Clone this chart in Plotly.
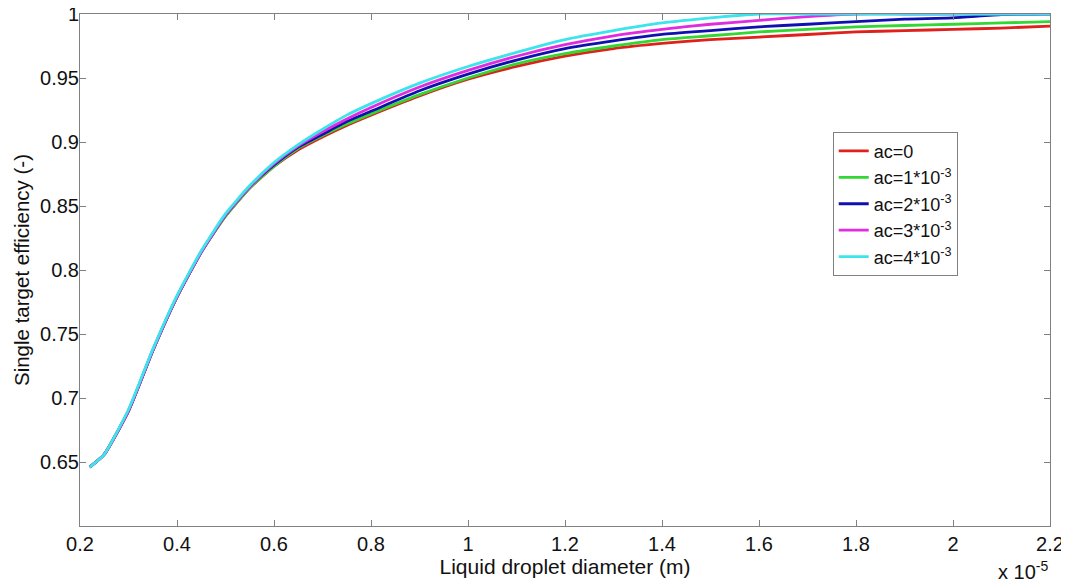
import plotly.graph_objects as go

# Liquid droplet diameter in units of 1e-5 m
diameter = [0.22, 0.25, 0.30, 0.35, 0.40, 0.45, 0.50, 0.55, 0.60, 0.65, 0.70, 0.75, 0.80, 0.90,
            1.00, 1.10, 1.20, 1.30, 1.40, 1.50, 1.60, 1.70, 1.80, 1.90, 2.00, 2.10, 2.20]

eff_ac0 = [0.646, 0.656, 0.690, 0.737, 0.779, 0.814, 0.842, 0.864, 0.881, 0.894, 0.904, 0.913, 0.921, 0.936,
           0.949, 0.959, 0.967, 0.973, 0.977, 0.980, 0.982, 0.984, 0.986, 0.987, 0.988, 0.989, 0.9905]
eff_ac1 = [0.646, 0.656, 0.690, 0.737, 0.779, 0.814, 0.842, 0.864, 0.881, 0.895, 0.905, 0.914, 0.922, 0.937,
           0.950, 0.961, 0.969, 0.975, 0.980, 0.983, 0.986, 0.988, 0.990, 0.991, 0.992, 0.993, 0.994]
eff_ac2 = [0.646, 0.656, 0.690, 0.737, 0.779, 0.814, 0.843, 0.865, 0.882, 0.896, 0.906, 0.916, 0.924, 0.940,
           0.953, 0.964, 0.973, 0.979, 0.984, 0.987, 0.990, 0.992, 0.994, 0.996, 0.997, 0.9995, 1.000]
eff_ac3 = [0.646, 0.656, 0.690, 0.737, 0.779, 0.814, 0.843, 0.865, 0.883, 0.897, 0.908, 0.918, 0.927, 0.943,
           0.956, 0.967, 0.976, 0.983, 0.988, 0.992, 0.995, 0.998, 1.000, 1.000, 1.000, 1.000, 1.000]
eff_ac4 = [0.646, 0.656, 0.691, 0.738, 0.780, 0.815, 0.844, 0.866, 0.884, 0.898, 0.910, 0.921, 0.930, 0.946,
           0.959, 0.970, 0.980, 0.987, 0.993, 0.997, 1.000, 1.000, 1.000, 1.000, 1.000, 1.000, 1.000]

series_names = ["ac=0", "ac=1*10<sup>-3</sup>", "ac=2*10<sup>-3</sup>",
                "ac=3*10<sup>-3</sup>", "ac=4*10<sup>-3</sup>"]
series_vals = [eff_ac0, eff_ac1, eff_ac2, eff_ac3, eff_ac4]
colors = ["#e0201c", "#33d633", "#1010b0", "#e02ce0", "#3ce4ec"]

x_ticks = [0.2, 0.4, 0.6, 0.8, 1.0, 1.2, 1.4, 1.6, 1.8, 2.0, 2.2]
x_ticklabels = ["0.2", "0.4", "0.6", "0.8", "1", "1.2", "1.4", "1.6", "1.8", "2", "2.2"]
y_ticks = [0.65, 0.7, 0.75, 0.8, 0.85, 0.9, 0.95, 1.0]
y_ticklabels = ["0.65", "0.7", "0.75", "0.8", "0.85", "0.9", "0.95", "1"]

fig = go.Figure()
for name, vals, c in zip(series_names, series_vals, colors):
    fig.add_trace(go.Scatter(x=diameter, y=vals, mode="lines", name=name,
                             line=dict(color=c, width=2.8, shape="spline", smoothing=0.5)))

font_family = "Liberation Sans, Arial, sans-serif"
axis_common = dict(showline=True, linecolor="#808080", linewidth=1, mirror="ticks",
                   ticks="inside", ticklen=6, tickcolor="#808080", showgrid=False,
                   zeroline=False, automargin=False, ticklabeloverflow="allow",
                   tickfont=dict(size=20, color="#111111", family=font_family))

# the page body adds an 8px offset at top/left; size the figure so the plot area lands where the reference has it
fig.update_layout(
    width=1061, height=575,
    margin=dict(l=72, r=19, t=6, b=57),
    paper_bgcolor="white", plot_bgcolor="white",
    font=dict(family=font_family, color="#111111"),
    xaxis=dict(range=[0.2, 2.2], tickvals=x_ticks, ticktext=x_ticklabels,
               title=dict(text="Liquid droplet diameter (m)", font=dict(size=21), standoff=0),
               **axis_common),
    yaxis=dict(range=[0.6, 1.0], tickvals=y_ticks, ticktext=y_ticklabels,
               ticklabelstandoff=-4,
               title=dict(text="Single target efficiency (-)", font=dict(size=20.5), standoff=4),
               **axis_common),
    legend=dict(x=0.776, y=0.77, xanchor="left", yanchor="top",
                bgcolor="white", bordercolor="#808080", borderwidth=1,
                font=dict(size=18, family=font_family), itemwidth=30,
                tracegroupgap=0),
    showlegend=True,
)

fig.add_annotation(text="x 10<sup>-5</sup>", xref="paper", yref="paper",
                   x=1.0, y=-0.058, xanchor="right", yanchor="top", showarrow=False,
                   font=dict(size=20, family=font_family, color="#111111"))

fig.write_html("out.html")
